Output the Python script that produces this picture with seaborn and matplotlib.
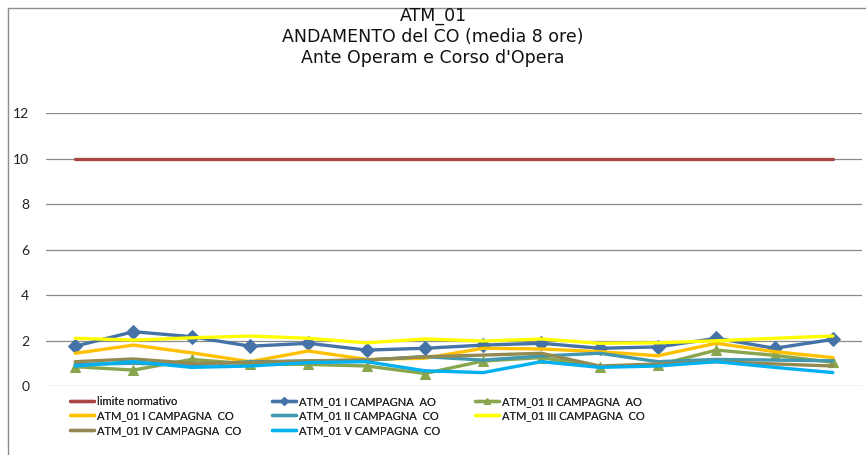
import numpy as np
import pandas as pd
import matplotlib
matplotlib.use("Agg")
import matplotlib.pyplot as plt
from matplotlib.lines import Line2D
import seaborn as sns

# 14 sampling days per campaign
days = list(range(14))

limite = [10] * 14
i_ao = [1.75, 2.39, 2.17, 1.75, 1.88, 1.58, 1.66, 1.80, 1.88, 1.66, 1.72, 2.10, 1.66, 2.05]
ii_ao = [0.85, 0.70, 1.17, 0.97, 0.95, 0.88, 0.55, 1.10, 1.25, 0.85, 0.92, 1.58, 1.35, 1.04]
i_co = [1.44, 1.80, 1.46, 1.07, 1.54, 1.17, 1.22, 1.66, 1.63, 1.51, 1.33, 1.88, 1.51, 1.25]
ii_co = [0.95, 1.00, 0.92, 1.07, 1.10, 1.14, 1.29, 1.14, 1.32, 1.44, 1.07, 1.17, 1.14, 1.11]
iii_co = [2.10, 2.02, 2.12, 2.20, 2.10, 1.90, 2.07, 1.98, 2.07, 1.88, 1.90, 1.99, 2.10, 2.20]
iv_co = [1.07, 1.19, 1.00, 1.03, 1.11, 1.14, 1.29, 1.36, 1.44, 0.88, 0.97, 1.07, 0.97, 0.88]
v_co = [0.88, 1.07, 0.82, 0.88, 1.03, 1.07, 0.67, 0.59, 1.07, 0.82, 0.88, 1.07, 0.82, 0.59]

labels = ["limite normativo", "ATM_01 I CAMPAGNA  AO", "ATM_01 II CAMPAGNA  AO",
          "ATM_01 I CAMPAGNA  CO", "ATM_01 II CAMPAGNA  CO", "ATM_01 III CAMPAGNA  CO",
          "ATM_01 IV CAMPAGNA  CO", "ATM_01 V CAMPAGNA  CO"]
series = [limite, i_ao, ii_ao, i_co, ii_co, iii_co, iv_co, v_co]
colors = ["#AA4643", "#4572A7", "#89A54E", "#FFC000", "#4198AF", "#FFFF00", "#938953", "#00B0F0"]
markers = [None, "D", "^", None, None, None, None, None]

sns.set_style("white")
plt.rcParams['font.family'] = ['Lato', 'DejaVu Sans']

fig = plt.figure(figsize=(8.66, 4.55), dpi=100)
ax = fig.add_axes([46 / 866, 69 / 455, 816 / 866, 272.7 / 455])

for vals, lab, col, mk in zip(series, labels, colors, markers):
    sns.lineplot(x=days, y=vals, ax=ax, color=col, marker=mk, markersize=7,
                 markeredgecolor=col, linewidth=2.4, label=lab, legend=False)

ax.set_xlim(-0.5, 13.5)
ax.set_ylim(0, 12)
ax.set_yticks(range(0, 13, 2))
ax.set_xticks([])
ax.set_xlabel("")
ax.set_ylabel("")
ax.grid(axis="y", color="#8c8c8c", linewidth=0.9)
ax.set_axisbelow(True)
for s in ax.spines.values():
    s.set_visible(False)
ax.tick_params(axis="y", length=0, pad=12, labelsize=10, labelcolor="#222222")

# legend: three fixed columns, rows read left to right
h, l = ax.get_legend_handles_labels()
col_items = [[0, 3, 6], [1, 4, 7], [2, 5]]
col_x = [70, 272, 475]
for items, xp in zip(col_items, col_x):
    lg = fig.legend([h[i] for i in items], [l[i] for i in items], loc="upper left",
                    bbox_to_anchor=(xp / 866, 1 - 396 / 455), frameon=False,
                    fontsize=8, handlelength=2.2, handletextpad=0.25,
                    labelspacing=0.3, borderpad=0, borderaxespad=0, markerscale=0.6)
    fig.add_artist(lg)

# title
for txt, yp in [("ATM_01", 16), ("ANDAMENTO del CO (media 8 ore)", 37),
                ("Ante Operam e Corso d'Opera", 58)]:
    fig.text(433 / 866, 1 - yp / 455, txt, ha="center", va="center",
             fontsize=12.5, family="DejaVu Sans", color="#111111")

# chart border (top and left edges visible)
fig.add_artist(Line2D([8 / 866, 8 / 866], [0, 1 - 8 / 455], transform=fig.transFigure,
                      color="#8c8c8c", linewidth=1))
fig.add_artist(Line2D([8 / 866, 1], [1 - 8 / 455, 1 - 8 / 455], transform=fig.transFigure,
                      color="#8c8c8c", linewidth=1))

fig.savefig("out.png", dpi=100)
